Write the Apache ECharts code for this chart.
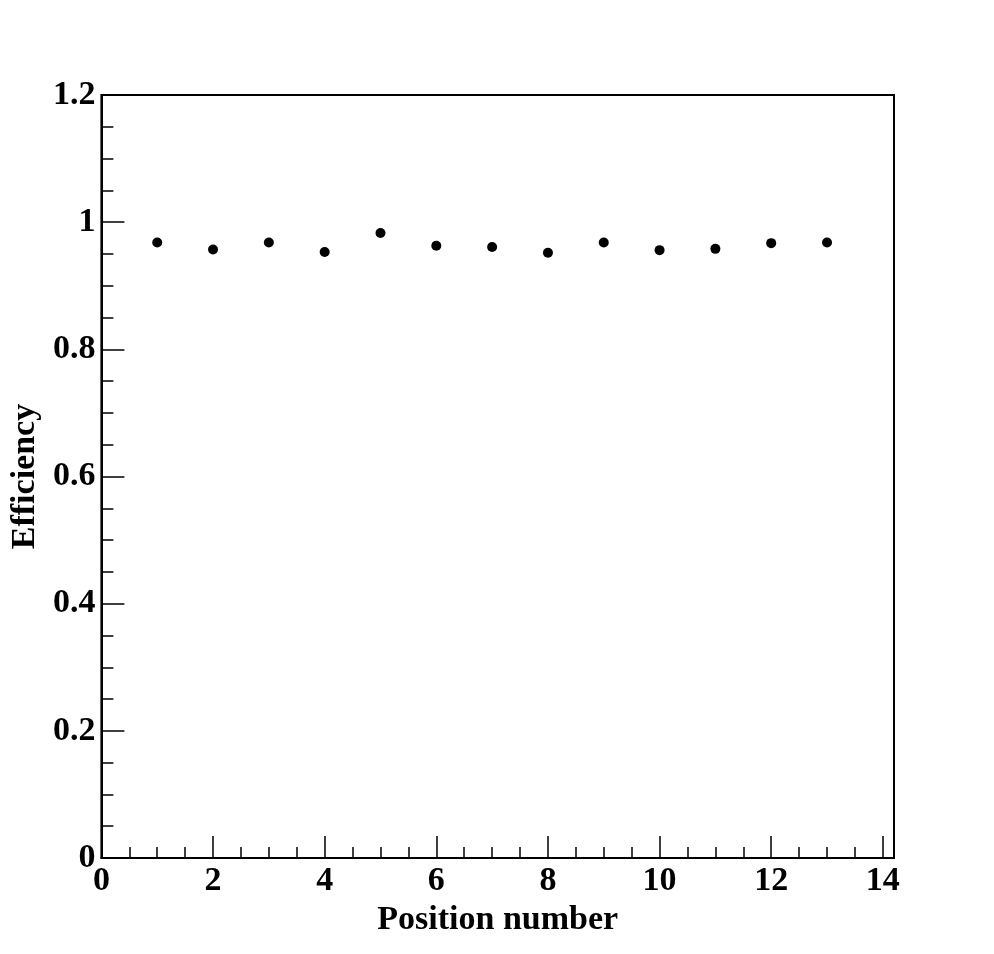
<!DOCTYPE html>
<html>
<head>
<meta charset="utf-8">
<script src="https://cdn.jsdelivr.net/npm/echarts@6/dist/echarts.min.js"></script>
<style>
  html, body { margin: 0; padding: 0; background: #fff; }
  #chart { width: 994px; height: 954px; }
</style>
</head>
<body>
<div id="chart"></div>
<script>
const positions = [1, 2, 3, 4, 5, 6, 7, 8, 9, 10, 11, 12, 13]
const efficiency = [0.968, 0.957, 0.968, 0.953, 0.983, 0.963, 0.961, 0.952, 0.968, 0.956, 0.958, 0.967, 0.968]
const xRange = [0, 14.2]
const yRange = [0, 1.2]

const font = { fontFamily: 'Liberation Serif', fontWeight: 'bold', fontSize: 34, color: '#000' }

const myChart = echarts.init(document.getElementById('chart'))
const option = {
  animation: false,
  backgroundColor: '#fff',
  grid: {
    left: 99, right: 100, top: 95, bottom: 96,
    show: true, borderColor: '#000', borderWidth: 2
  },
  xAxis: [
    {
      type: 'value',
      min: xRange[0], max: xRange[1], interval: 2,
      name: 'Position number',
      nameLocation: 'middle',
      nameGap: 40,
      nameTextStyle: font,
      axisLine: { lineStyle: { color: '#000', width: 2 } },
      axisTick: { inside: true, length: 22, lineStyle: { color: '#000', width: 1.5 } },
      axisLabel: {
        ...font, margin: 6,
        formatter: v => (v > 14.1 ? '' : String(v))
      },
      splitLine: { show: false }
    },
    {
      // minor ticks every 0.5
      type: 'value',
      position: 'bottom',
      min: xRange[0], max: xRange[1], interval: 0.5,
      axisLine: { show: false },
      axisTick: { inside: true, length: 11, lineStyle: { color: '#000', width: 1.5 } },
      axisLabel: { show: false },
      splitLine: { show: false }
    }
  ],
  yAxis: {
    type: 'value',
    min: yRange[0], max: yRange[1], interval: 0.2,
    name: 'Efficiency',
    nameLocation: 'middle',
    nameGap: 58,
    nameTextStyle: font,
    axisLine: { lineStyle: { color: '#000', width: 2 } },
    axisTick: { inside: true, length: 23, lineStyle: { color: '#000', width: 1.5 } },
    minorTick: { show: true, splitNumber: 4, length: 12, lineStyle: { color: '#000', width: 1.5 } },
    axisLabel: {
      ...font, margin: 6,
      formatter: v => String(Math.round(v * 10) / 10)
    },
    splitLine: { show: false }
  },
  series: [
    {
      type: 'scatter',
      data: positions.map((p, i) => [p, efficiency[i]]),
      symbol: 'circle',
      symbolSize: 10,
      itemStyle: { color: '#000', opacity: 1 }
    }
  ]
}
option && myChart.setOption(option)
</script>
</body>
</html>
